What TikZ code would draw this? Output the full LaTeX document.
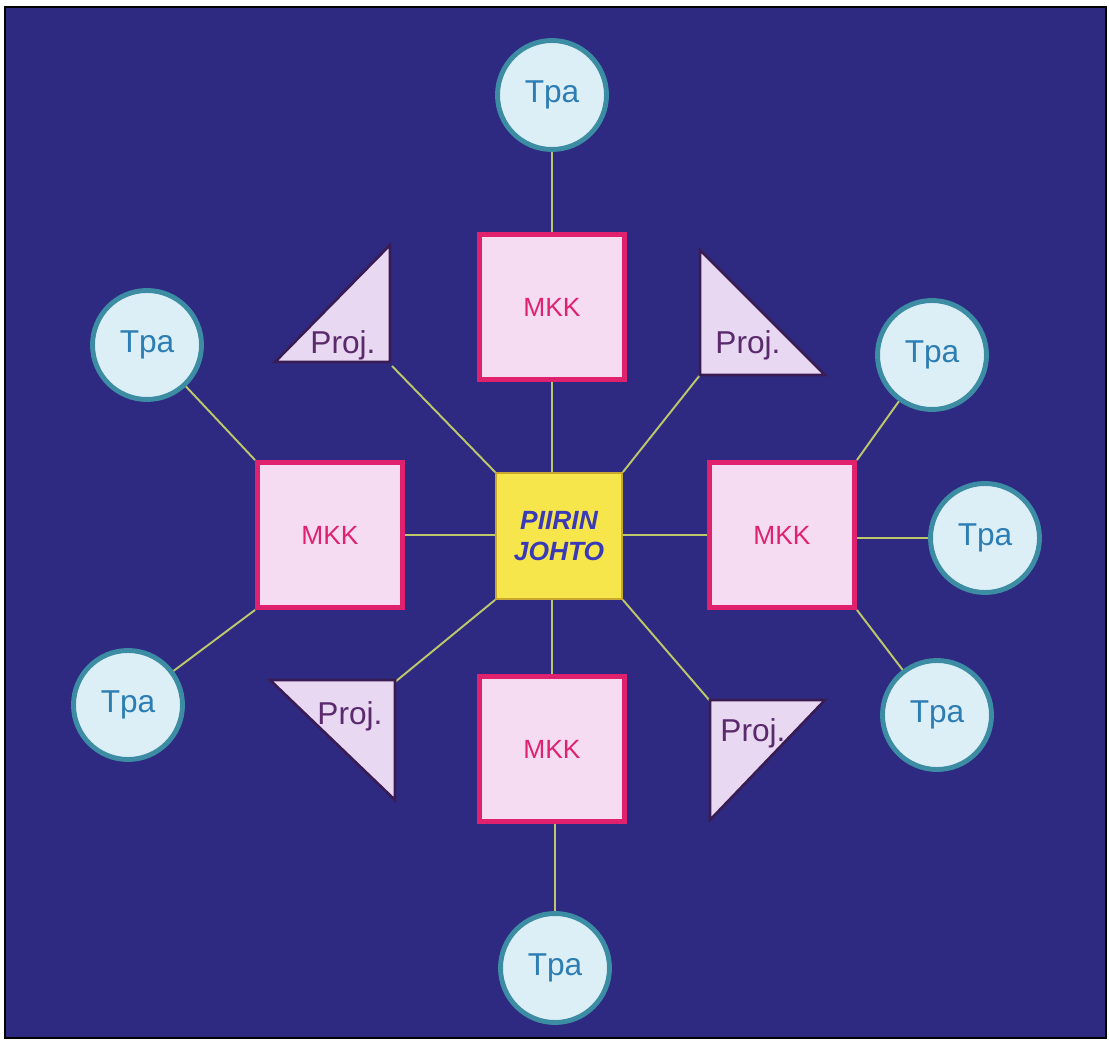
\documentclass[tikz,border=0pt]{standalone}
\usepackage{fontspec}
\setmainfont{Liberation Sans}
\usetikzlibrary{positioning}
\definecolor{bground}{HTML}{2E2A82}
\definecolor{mkkline}{HTML}{E0226E}
\definecolor{mkkfill}{HTML}{F6DCF2}
\definecolor{tpaline}{HTML}{3C8CA4}
\definecolor{tpafill}{HTML}{DDEFF6}
\definecolor{tpatext}{HTML}{2C7DB4}
\definecolor{projline}{HTML}{3A1C55}
\definecolor{projfill}{HTML}{E8D8F2}
\definecolor{projtext}{HTML}{5A2A6C}
\definecolor{headfill}{HTML}{F6E64C}
\definecolor{headline}{HTML}{C9A830}
\definecolor{headtext}{HTML}{3A3AB8}
\definecolor{link}{HTML}{BCC86A}

\begin{document}
\begin{tikzpicture}[x=0.02cm, y=-0.02cm,
  mkk/.style={draw=mkkline, line width=2.8pt, fill=mkkfill, minimum size=2.9cm,
              text=mkkline, font=\fontsize{15}{17}\selectfont},
  tpa/.style={circle, draw=tpaline, line width=2.8pt, fill=tpafill, minimum size=2.18cm,
              text=tpatext, font=\fontsize{18}{20}\selectfont},
  head/.style={draw=headline, line width=1pt, fill=headfill, minimum size=2.52cm,
               align=center, text=headtext, font=\fontsize{15}{18}\selectfont\bfseries\itshape},
  proj/.style={draw=projline, line width=1.5pt, fill=projfill},
  projlabel/.style={text=projtext, font=\fontsize{18}{20}\selectfont, inner sep=0pt},
  link/.style={draw=link, line width=1.1pt},
]
  \useasboundingbox (0,0) rectangle (1109,1043);
  \fill[white] (0,0) rectangle (1109,1043);
  \draw[fill=bground, line width=1pt] (5,7) rectangle (1106,1038);

  % corners of the project triangles
  \coordinate (ptl) at (392,366);
  \coordinate (ptr) at (700,375);
  \coordinate (pbl) at (395,682);
  \coordinate (pbr) at (710,701);

  \node[head] (johto) at (559,536) {PIIRIN\\JOHTO};
  \node[mkk] (mkkN) at (552,307) {MKK};
  \node[mkk] (mkkS) at (552,749) {MKK};
  \node[mkk] (mkkW) at (330,535) {MKK};
  \node[mkk] (mkkE) at (782,535) {MKK};

  \node[tpa] (tpaN) at (552,95) {Tpa};
  \node[tpa] (tpaS) at (555,968) {Tpa};
  \node[tpa] (tpaWN) at (147,345) {Tpa};
  \node[tpa] (tpaWS) at (128,705) {Tpa};
  \node[tpa] (tpaEN) at (932,355) {Tpa};
  \node[tpa] (tpaE) at (985,538) {Tpa};
  \node[tpa] (tpaES) at (937,715) {Tpa};

  \draw[link] (tpaN) -- (mkkN);
  \draw[link] (mkkN.south) -- (mkkN.south |- johto.north);
  \draw[link] (mkkS.north) -- (mkkS.north |- johto.south);
  \draw[link] (tpaS.north) -- (tpaS.north |- mkkS.south);
  \draw[link] (mkkW.east) -- (johto.west |- mkkW.east);
  \draw[link] (mkkE.west) -- (johto.east |- mkkE.west);
  \draw[link] (tpaWN) -- (mkkW.north west);
  \draw[link] (tpaWS) -- (mkkW.south west);
  \draw[link] (tpaEN) -- (mkkE.north east);
  \draw[link] (tpaE.west) -- (mkkE.east |- tpaE.west);
  \draw[link] (tpaES) -- (mkkE.south east);
  \draw[link] (ptl) -- (johto.north west);
  \draw[link] (ptr) -- (johto.north east);
  \draw[link] (pbl) -- (johto.south west);
  \draw[link] (pbr) -- (johto.south east);

  % projects
  \draw[proj] (275,362) -- (390,245) -- (390,362) -- cycle;
  \draw[proj] (700,250) -- (700,375) -- (825,375) -- cycle;
  \draw[proj] (270,680) -- (395,680) -- (395,800) -- cycle;
  \draw[proj] (710,700) -- (825,700) -- (710,820) -- cycle;
  \node[projlabel] (projTL) at (343,345) {Proj.};
  \node[projlabel] (projTR) at (748,345) {Proj.};
  \node[projlabel] (projBL) at (350,716) {Proj.};
  \node[projlabel] (projBR) at (753,733) {Proj.};
\end{tikzpicture}
\end{document}
